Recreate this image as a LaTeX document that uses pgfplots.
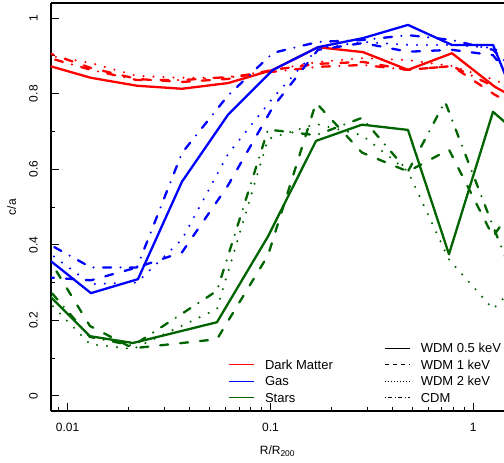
\documentclass[border=0pt]{standalone}
\usepackage{fontspec}
\setmainfont{Liberation Sans}
\usepackage{pgfplots}
\pgfplotsset{compat=1.18}
\definecolor{dmred}{RGB}{255,0,0}
\definecolor{gasblue}{RGB}{0,0,255}
\definecolor{stargreen}{RGB}{0,100,0}
\tikzset{
  wdmA/.style={solid},
  wdmB/.style={dash pattern=on 8bp off 12bp},
  wdmC/.style={dash pattern=on 0bp off 10bp},
  cdm/.style={dash pattern=on 0bp off 9.5bp on 8bp off 9.5bp},
  dat/.style={line width=2.3bp, line cap=round, line join=round},
}
\pgfplotsset{
  legend image code/.code={
    \draw[line width=1.3bp,#1] (0bp,4.6bp) -- (25bp,4.6bp);
    \path (36bp,4.6bp);},
}
\begin{document}
\begin{tikzpicture}
\useasboundingbox (-51bp,-52bp) rectangle (453bp,411bp);

\begin{axis}[
  scale only axis, width=453bp, height=408bp,
  xmode=log,
  xmin=0.008276, xmax=1.417, ymin=-0.04, ymax=1.04,
  axis x line*=box, axis y line*=left,
  axis line style={line width=1.5bp},
  tick align=inside,
  xtick pos=bottom, ytick pos=left,
  major tick length=8bp, minor tick length=4bp,
  tick style={black, line width=0.9bp},
  xtick={0.01,0.1,1},
  xticklabels={0.01,0.1,1},
  minor xtick={0.009,0.02,0.03,0.04,0.05,0.06,0.07,0.08,0.09,0.2,0.3,0.4,0.5,0.6,0.7,0.8,0.9},
  ytick={0,0.2,0.4,0.6,0.8,1},
  yticklabels={0,0.2,0.4,0.6,0.8,1},
  minor ytick={0.1,0.3,0.5,0.7,0.9},
  tick label style={font=\fontsize{12bp}{14bp}\selectfont},
  /pgf/number format/assume math mode=true,
  xticklabel style={anchor=base, inner sep=0pt},
  xticklabel shift=20.3bp,
  yticklabel style={rotate=90, anchor=base, inner sep=0pt},
  yticklabel shift=13.4bp,
  label style={font=\fontsize{12bp}{14bp}\selectfont},
  xlabel={R/R\textsubscript{200}},
  xlabel style={at={(axis description cs:0.5,-0.106)}, anchor=base, inner sep=0pt},
  ylabel={c/a},
  ylabel style={at={(axis description cs:-0.0773,0.5)}, anchor=base, inner sep=0pt},
  legend columns=2,
  legend cell align=left,
  legend style={draw=none, fill=none, inner sep=0pt, row sep=0pt,
    at={(axis description cs:0.3907,0.1676)}, anchor=north west,
    font=\fontsize{13bp}{15bp}\selectfont,
    /tikz/column 2/.style={column sep=51bp},
    nodes={inner sep=0pt, text height=10bp, text depth=6.5bp, anchor=base west}},
]
% legend: components on the left, models on the right
\addlegendimage{empty legend}
\addlegendentry{}
\addlegendimage{color=black, solid}
\addlegendentry{WDM 0.5 keV}
\addlegendimage{color=dmred}
\addlegendentry{Dark Matter}
\addlegendimage{color=black, dash pattern=on 4bp off 4bp}
\addlegendentry{WDM 1 keV}
\addlegendimage{color=gasblue}
\addlegendentry{Gas}
\addlegendimage{color=black, dash pattern=on 1bp off 2bp}
\addlegendentry{WDM 2 keV}
\addlegendimage{color=stargreen}
\addlegendentry{Stars}
\addlegendimage{color=black, dash pattern=on 1bp off 2.5bp on 4bp off 2.5bp}
\addlegendentry{CDM}

% Dark Matter
\addplot[forget plot, dat, dmred, wdmA] coordinates {
  (0.00782,0.876) (0.01303,0.842) (0.02196,0.821) (0.03661,0.813) (0.06173,0.828) (0.1029,0.863)
  (0.1714,0.923) (0.2859,0.910) (0.4764,0.863) (0.7852,0.907) (1.279,0.818) (2.132,0.752)};
\addplot[forget plot, dat, dmred, wdmB] coordinates {
  (0.00782,0.910) (0.01303,0.868) (0.02196,0.839) (0.03661,0.831) (0.06173,0.839) (0.1029,0.863)
  (0.1714,0.879) (0.2859,0.884) (0.4764,0.863) (0.7852,0.873) (1.279,0.797) (2.132,0.731)};
\addplot[forget plot, dat, dmred, wdmC] coordinates {
  (0.00782,0.902) (0.01303,0.881) (0.02196,0.847) (0.03661,0.842) (0.06173,0.842) (0.1029,0.863)
  (0.1714,0.884) (0.2859,0.894) (0.4764,0.889) (0.7852,0.873) (1.279,0.836) (2.132,0.784)};
\addplot[forget plot, dat, dmred, cdm] coordinates {
  (0.00782,0.897) (0.01303,0.863) (0.02196,0.836) (0.03661,0.836) (0.06173,0.844) (0.1029,0.858)
  (0.1714,0.871) (0.2859,0.876) (0.4764,0.863) (0.7852,0.873) (1.279,0.818) (2.132,0.757)};

% Gas
\addplot[forget plot, dat, gasblue, wdmA] coordinates {
  (0.00782,0.367) (0.01303,0.272) (0.02221,0.309) (0.03661,0.567) (0.06173,0.744) (0.1029,0.863)
  (0.1714,0.923) (0.2859,0.947) (0.4764,0.982) (0.7852,0.929) (1.2508,0.929) (2.132,0.625)};
\addplot[forget plot, dat, gasblue, wdmB] coordinates {
  (0.00782,0.314) (0.01303,0.306) (0.02196,0.340) (0.03661,0.380) (0.06173,0.557) (0.1029,0.765)
  (0.1714,0.916) (0.2859,0.934) (0.4764,0.911) (0.7852,0.916) (1.2508,0.902) (2.132,0.740)};
\addplot[forget plot, dat, gasblue, wdmC] coordinates {
  (0.00782,0.385) (0.01303,0.296) (0.02196,0.300) (0.03661,0.414) (0.06173,0.640) (0.1029,0.789)
  (0.1714,0.920) (0.2859,0.937) (0.4764,0.929) (0.7852,0.929) (1.2508,0.921) (2.132,0.850)};
\addplot[forget plot, dat, gasblue, cdm] coordinates {
  (0.00782,0.406) (0.01303,0.340) (0.02196,0.340) (0.03661,0.643) (0.06173,0.795) (0.1029,0.908)
  (0.1714,0.937) (0.2859,0.942) (0.4764,0.955) (0.7852,0.942) (1.2508,0.916) (2.132,0.800)};

% Stars
\addplot[forget plot, dat, stargreen, wdmA] coordinates {
  (0.00782,0.274) (0.01288,0.158) (0.02099,0.140) (0.05447,0.195) (0.09721,0.422) (0.1677,0.675)
  (0.2827,0.718) (0.4764,0.704) (0.7587,0.375) (1.2508,0.752) (2.132,0.644)};
\addplot[forget plot, dat, stargreen, wdmB] coordinates {
  (0.00782,0.375) (0.01288,0.185) (0.02099,0.126) (0.05447,0.150) (0.09721,0.372) (0.1677,0.776)
  (0.2827,0.644) (0.4764,0.594) (0.7587,0.652) (1.2508,0.422) (2.132,0.596)};
\addplot[forget plot, dat, stargreen, wdmC] coordinates {
  (0.00782,0.256) (0.01288,0.137) (0.02099,0.124) (0.05447,0.230) (0.09721,0.680) (0.1677,0.720)
  (0.2827,0.690) (0.4764,0.594) (0.7587,0.361) (1.2508,0.230) (2.132,0.356)};
\addplot[forget plot, dat, stargreen, cdm] coordinates {
  (0.00782,0.290) (0.01288,0.156) (0.02099,0.133) (0.05447,0.278) (0.09721,0.705) (0.1677,0.690)
  (0.2827,0.736) (0.4764,0.594) (0.7253,0.779) (1.2508,0.449) (2.132,0.140)};
\end{axis}
\end{tikzpicture}
\end{document}
